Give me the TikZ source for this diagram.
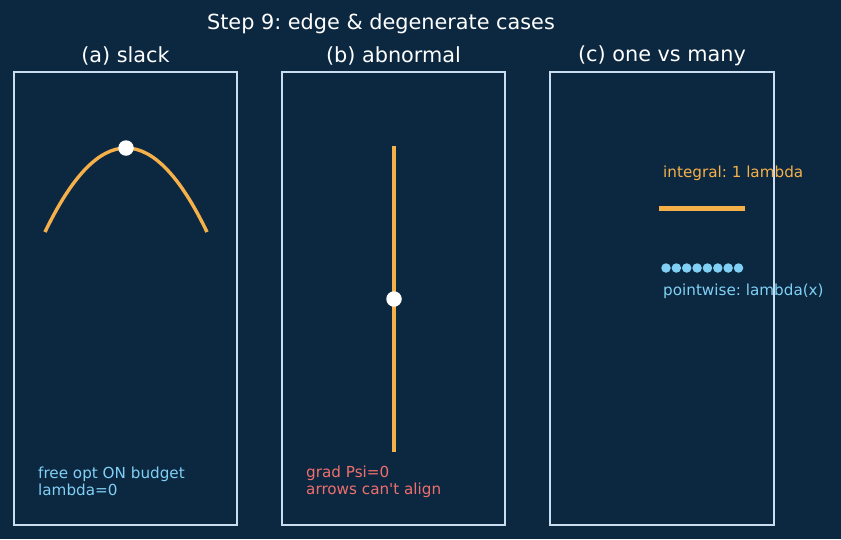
\documentclass[tikz,border=0pt]{standalone}
\usepackage{fontspec}
\setmainfont{DejaVu Sans}[Ligatures=TeXOff]
\frenchspacing
\definecolor{bg}{HTML}{0C2841}
\definecolor{frame}{HTML}{C9DDF0}
\definecolor{orng}{HTML}{F5B04A}
\definecolor{lblue}{HTML}{80D0F5}
\definecolor{salmon}{HTML}{EF6F6C}
\tikzset{
  panel/.style={draw=frame, line width=1.5pt},
  bigtxt/.style={text=white, font=\fontsize{20.8}{24}\selectfont\frenchspacing, inner sep=0pt},
  smalltxt/.style={font=\fontsize{15.2}{17.3}\selectfont\frenchspacing, inner sep=0pt, anchor=west, align=left},
  curve/.style={draw=orng, line width=3.4pt},
  whitedot/.style={circle, fill=white, minimum size=15.5pt, inner sep=0pt},
  bluedot/.style={circle, fill=lblue, minimum size=9.5pt, inner sep=0pt},
}
\begin{document}
\begin{tikzpicture}[x=1pt, y=-1pt]
\fill[bg] (0,0) rectangle (841,539);
\useasboundingbox (0,0) rectangle (841,539);
% title
\node[bigtxt] (title) at (381,23.5) {Step 9: edge \& degenerate cases};
% panels
\draw[panel] (14,72) rectangle (237,525);
\draw[panel] (282,72) rectangle (505,525);
\draw[panel] (550,72) rectangle (774,525);
\node[bigtxt] (ta) at (125.5,55.5) {(a) slack};
\node[bigtxt] (tb) at (393.5,55.5) {(b) abnormal};
\node[bigtxt] (tc) at (662,55.5) {(c) one vs many};
% (a)
\draw[curve] (45,232) .. controls (99,120) and (153,120) .. (207,232);
\node[whitedot] (apex) at (126,148) {};
\node[smalltxt, text=lblue] (la) at (38,481.5) {free opt ON budget\\lambda=0};
% (b)
\coordinate (btop) at (394,146);
\coordinate (bbot) at (394,452);
\draw[curve] (btop) -- (bbot);
\node[whitedot] (mid) at (394,299) {};
\node[smalltxt, text=salmon] (lb) at (306,481.5) {grad Psi=0\\arrows can't align};
% (c)
\node[smalltxt, text=orng] (lc1) at (663,173) {integral: 1 lambda};
\coordinate (hl) at (659,208);
\coordinate (hr) at (745,208);
\draw[draw=orng, line width=5pt] (hl) -- (hr);
\foreach \i in {0,...,7} {
  \node[bluedot] (d\i) at (666+10.36*\i,268) {};
}
\node[smalltxt, text=lblue] (lc2) at (663,291) {pointwise: lambda(x)};
\end{tikzpicture}
\end{document}
